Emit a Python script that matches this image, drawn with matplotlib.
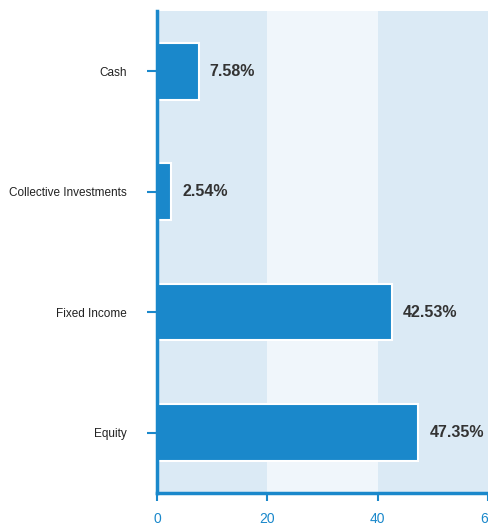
import matplotlib.pyplot as plt

# データ
categories = ["Equity", "Fixed Income", "Collective Investments", "Cash"]
values = [47.35, 42.53, 2.54, 7.58]
labels = ["47.35%", "42.53%", "2.54%", "7.58%"]
x_ticks = [0, 20, 40, 60]

BAR_COLOR = "#1a88cb"
AXIS_COLOR = "#1a88cb"

plt.rcParams["font.family"] = ["Liberation Sans", "DejaVu Sans"]

fig = plt.figure(figsize=(4.89, 5.26), dpi=100)
ax = fig.add_axes([0.321, 0.063, 0.677, 0.916])

# 背景の帯
band_colors = ["#dbeaf5", "#f0f6fb", "#dbeaf5"]
for i, c in enumerate(band_colors):
    ax.axvspan(x_ticks[i], x_ticks[i + 1], color=c, zorder=0, lw=0)

y = range(len(categories))
ax.barh(y, values, height=0.47, color=BAR_COLOR, edgecolor="white", linewidth=1.5, zorder=2)

for yi, v, lab in zip(y, values, labels):
    ax.text(v + 2.0, yi, lab, va="center", ha="left", fontsize=11.5,
            fontweight="bold", color="#333333", zorder=3)

ax.set_xlim(0, 60)
ax.set_ylim(-0.5, 3.5)
ax.set_xticks(x_ticks)
ax.set_yticks(list(y))
ax.set_yticklabels(categories, fontsize=8.5, color="#222222")

for s in ["top", "right"]:
    ax.spines[s].set_visible(False)
ax.spines["left"].set_color(AXIS_COLOR)
ax.spines["left"].set_linewidth(2.5)
ax.spines["bottom"].set_color(AXIS_COLOR)
ax.spines["bottom"].set_linewidth(2.5)

ax.tick_params(axis="x", colors=AXIS_COLOR, labelsize=10, length=6, width=1.5, pad=8)
ax.tick_params(axis="y", color=AXIS_COLOR, length=7, width=1.5, pad=15)

fig.savefig("out.png", dpi=100)
